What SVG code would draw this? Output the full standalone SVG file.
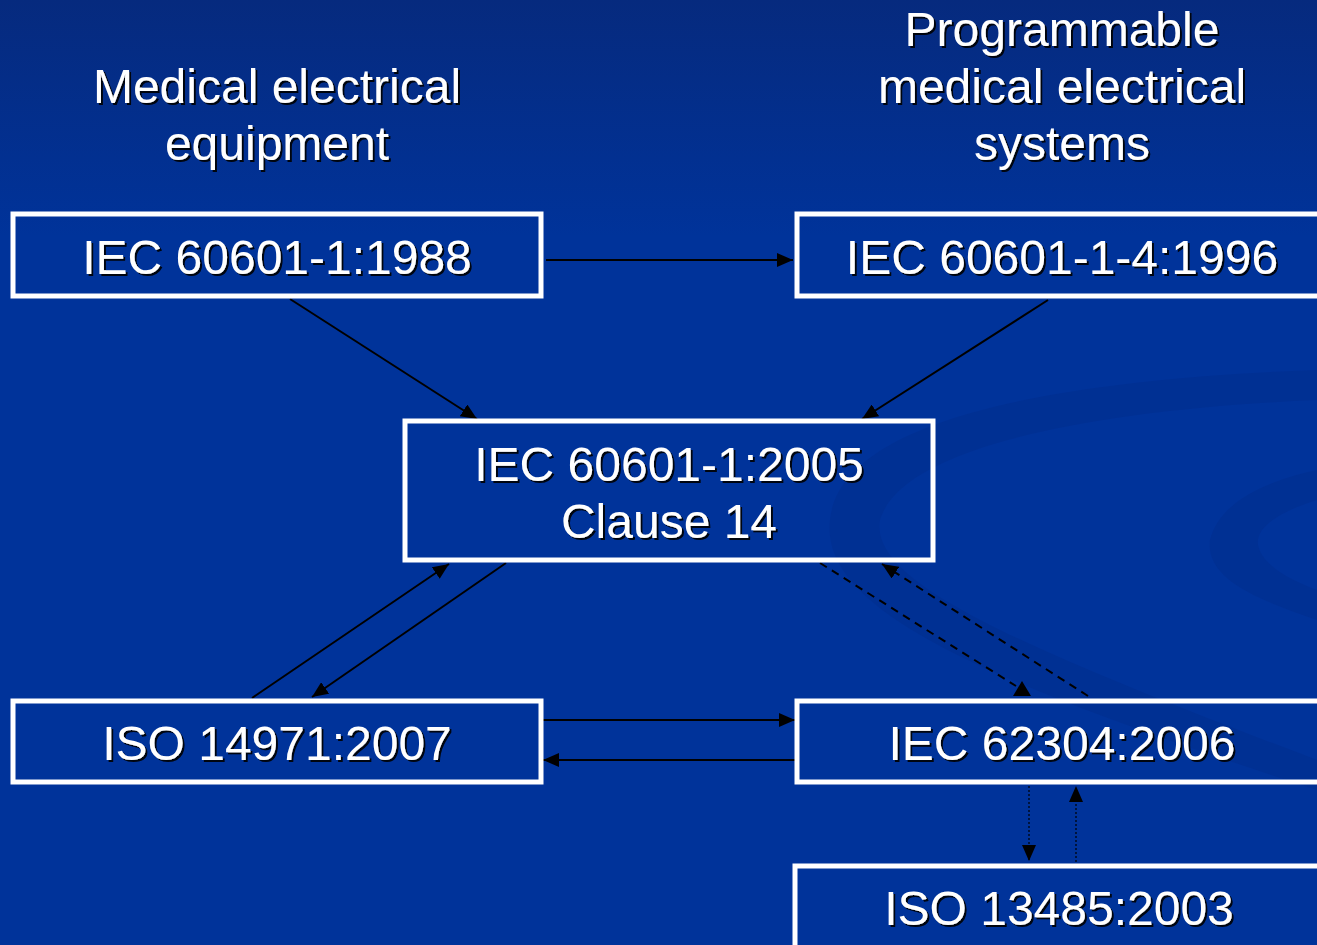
<svg xmlns="http://www.w3.org/2000/svg" width="1317" height="945" viewBox="0 0 1317 945">
<defs>
<linearGradient id="bg" x1="0" y1="0" x2="0" y2="1">
<stop offset="0" stop-color="#062a7e"/>
<stop offset="0.25" stop-color="#00339a"/>
<stop offset="1" stop-color="#00339a"/>
</linearGradient>
<marker id="ah" viewBox="0 0 10 10" refX="10" refY="5" markerWidth="8" markerHeight="7" markerUnits="strokeWidth" orient="auto" preserveAspectRatio="none">
<path d="M0,0 L10,5 L0,10 z" fill="#000"/>
</marker>
<marker id="ahs" viewBox="0 0 10 10" refX="10" refY="5" markerWidth="16" markerHeight="14" markerUnits="userSpaceOnUse" orient="auto" preserveAspectRatio="none">
<path d="M0,0 L10,5 L0,10 z" fill="#000"/>
</marker>
<filter id="sh" x="-5%" y="-20%" width="110%" height="140%">
<feDropShadow dx="2" dy="2" stdDeviation="0.4" flood-color="#000" flood-opacity="0.9"/>
</filter>
</defs>
<style>
.box{fill:none;stroke:#fff;stroke-width:5}
.t{font-family:"Liberation Sans",Arial,sans-serif;font-size:48px;fill:#fff;text-anchor:middle;filter:url(#sh)}
.c{stroke:#000;stroke-width:2;fill:none}
.d{stroke-dasharray:8 6}
.o{stroke-width:1.2;stroke-dasharray:2 2}
.sw{fill:#003091;opacity:0.8}
</style>
<rect x="0" y="0" width="1317" height="945" fill="url(#bg)"/>
<g id="swirl">
<path class="sw" d="M830,520 C840,420 1050,380 1317,370 L1317,400 C1080,410 900,450 880,520 C870,580 1000,640 1317,760 L1317,790 C980,680 820,610 830,520 z"/>
<path class="sw" d="M1210,540 C1220,500 1270,480 1317,470 L1317,500 C1285,510 1255,525 1258,545 C1262,565 1290,580 1317,590 L1317,620 C1260,600 1205,580 1210,540 z"/>
</g>
<g id="headers">
<text class="t" x="277" y="103">Medical electrical</text>
<text class="t" x="277" y="160">equipment</text>
<text class="t" x="1062" y="46">Programmable</text>
<text class="t" x="1062" y="103">medical electrical</text>
<text class="t" x="1062" y="160">systems</text>
</g>
<g id="connectors">
<line class="c" x1="546" y1="260" x2="793" y2="260" marker-end="url(#ahs)"/>
<line class="c" x1="290" y1="299" x2="477" y2="419" marker-end="url(#ahs)"/>
<line class="c" x1="1048" y1="300" x2="862" y2="419" marker-end="url(#ahs)"/>
<line class="c" x1="252" y1="698" x2="449" y2="564" marker-end="url(#ahs)"/>
<line class="c" x1="506" y1="563" x2="312" y2="697" marker-end="url(#ahs)"/>
<line class="c d" x1="820" y1="563" x2="1016" y2="686"/>
<polygon points="1022,681 1031,696 1013,696" fill="#000"/>
<line class="c d" x1="1088" y1="696" x2="882" y2="564" marker-end="url(#ahs)"/>
<line class="c" x1="543" y1="720" x2="795" y2="720" marker-end="url(#ahs)"/>
<line class="c" x1="795" y1="760" x2="543" y2="760" marker-end="url(#ahs)"/>
<line class="c o" x1="1029" y1="786" x2="1029" y2="861" marker-end="url(#ahs)"/>
<line class="c o" x1="1076" y1="862" x2="1076" y2="786" marker-end="url(#ahs)"/>
</g>
<g id="n1">
<rect class="box" x="13" y="214" width="528" height="82"/>
<text class="t" x="277" y="274">IEC 60601-1:1988</text>
</g>
<g id="n2">
<rect class="box" x="797" y="214" width="530" height="82"/>
<text class="t" x="1062" y="274">IEC 60601-1-4:1996</text>
</g>
<g id="n3">
<rect class="box" x="405" y="421" width="528" height="139"/>
<text class="t" x="669" y="481">IEC 60601-1:2005</text>
<text class="t" x="669" y="538">Clause 14</text>
</g>
<g id="n4">
<rect class="box" x="13" y="701" width="528" height="81"/>
<text class="t" x="277" y="760">ISO 14971:2007</text>
</g>
<g id="n5">
<rect class="box" x="797" y="701" width="530" height="81"/>
<text class="t" x="1062" y="760">IEC 62304:2006</text>
</g>
<g id="n6">
<rect class="box" x="795" y="866" width="530" height="90"/>
<text class="t" x="1059" y="925">ISO 13485:2003</text>
</g>
</svg>
